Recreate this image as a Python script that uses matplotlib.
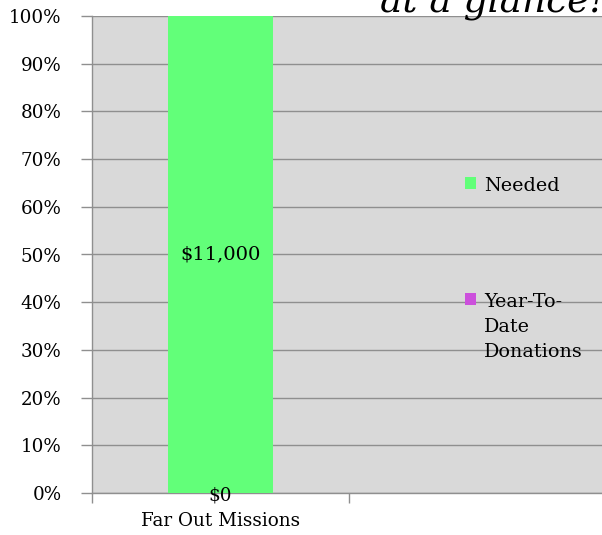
import matplotlib.pyplot as plt
import numpy as np

# Data
categories = ["Far Out Missions", ""]
donations = [0, 0]        # Year-To-Date Donations ($)
needed = [11000, 0]       # Needed ($)
colors = ["#CC50DC", "#62FF79"]

plt.rcParams['font.family'] = ['DejaVu Serif']

fig = plt.figure(figsize=(6.02, 5.35), dpi=100)
ax = fig.add_axes([92 / 602, 42 / 535, 514 / 602, 477 / 535])
ax.set_facecolor("#D9D9D9")

x = np.arange(len(categories))
totals = np.array(donations, dtype=float) + np.array(needed, dtype=float)
safe = np.where(totals == 0, 1, totals)
don_pct = np.array(donations) / safe * 100
need_pct = np.array(needed) / safe * 100

fs = 13.2
w = 0.405
b1 = ax.bar(x[:1], don_pct[:1], w, color=colors[0], zorder=3)
b2 = ax.bar(x[:1], need_pct[:1], w, bottom=don_pct[:1], color=colors[1], zorder=3)

# Data labels
for i in range(1):
    ax.text(x[i], don_pct[i] / 2 - 0.6, f"${donations[i]:,.0f}", ha="center", va="center",
            fontsize=fs, zorder=4)
    ax.text(x[i], don_pct[i] + need_pct[i] / 2, f"${needed[i]:,.0f}", ha="center", va="center",
            fontsize=fs + 0.8, zorder=4)

ax.set_ylim(0, 100)
ax.set_xlim(-0.5, 1.5)
ax.set_yticks(np.arange(0, 101, 10))
ax.set_yticklabels([f"{v}%" for v in range(0, 101, 10)], fontsize=fs)
ax.yaxis.grid(True, color="#8F8F8F", linewidth=1.0, zorder=1)
ax.tick_params(axis="y", length=8, color="#8F8F8F", width=1.0, pad=14)

ax.set_xticks([-0.5, 0.5, 1.5])
ax.set_xticklabels([])
ax.set_xticks(x, minor=True)
ax.set_xticklabels(categories, minor=True, fontsize=fs)
ax.tick_params(axis="x", which="major", length=7, color="#8F8F8F", width=1.0)
ax.tick_params(axis="x", which="minor", length=0, pad=14)

for s in ["top", "right"]:
    ax.spines[s].set_visible(False)
for s in ["left", "bottom"]:
    ax.spines[s].set_color("#8F8F8F")
    ax.spines[s].set_linewidth(1.0)

leg = ax.legend(handles=[b2, b1], labels=["Needed", "Year-To-\nDate\nDonations"],
                loc="upper left", bbox_to_anchor=(0.692, 0.699), frameon=False,
                fontsize=fs + 0.6, handlelength=0.6, handleheight=0.6, handletextpad=0.4,
                labelspacing=5.1)
for t in leg.get_texts():
    t.set_linespacing(1.5)
# Excel puts the marker beside the first line of a wrapped label
for col in leg._legend_handle_box.get_children():
    col.align = "left"
    for row in col.get_children():
        row.align = "top"

fig.text(0.818, 1 - 12 / 535, "at a glance!", ha="center", va="baseline",
         fontsize=27, fontstyle="italic")

fig.savefig("out.png", dpi=100)
